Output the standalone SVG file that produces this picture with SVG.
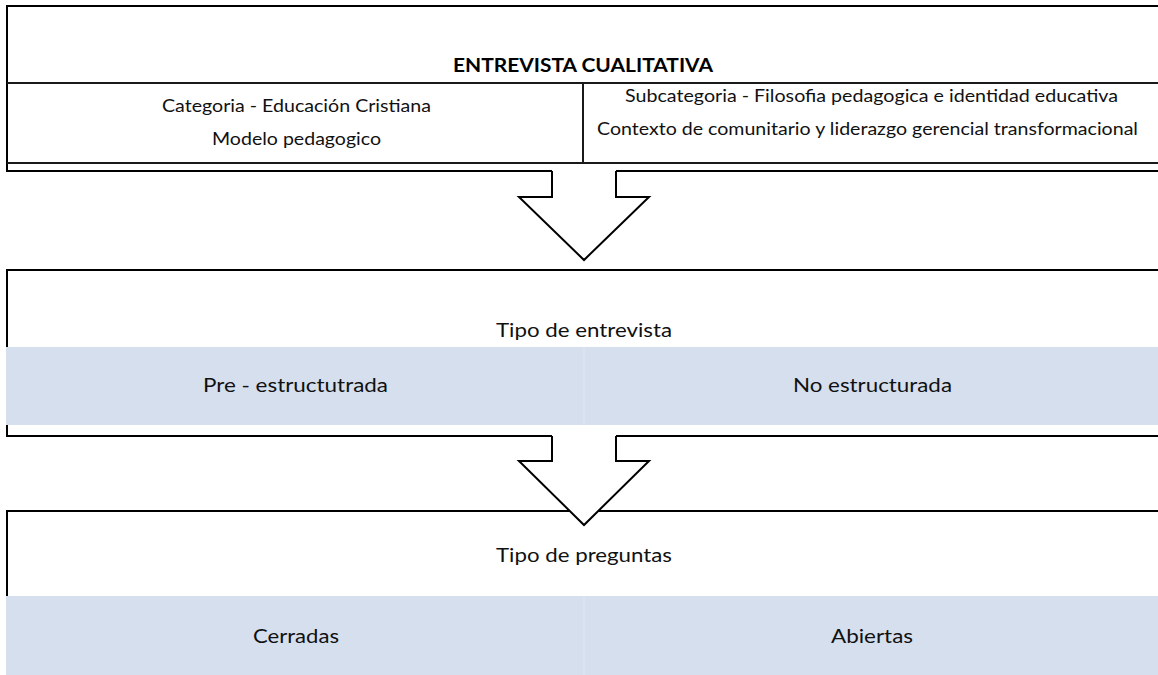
<svg xmlns="http://www.w3.org/2000/svg" width="1158" height="675" viewBox="0 0 1158 675">
  <style>
    .edge { fill: none; stroke: #000; stroke-width: 2; stroke-linejoin: miter; }
    .cell { fill: none; stroke: #1a1a1a; stroke-width: 2; }
    .band { fill: #D5DFEE; }
    .bandsep { stroke: #DDE5F1; stroke-width: 1.5; }
    .t { font-family: Lato, "Liberation Sans", Arial, sans-serif; font-size: 19.5px; fill: #111; }
    .s { font-family: Lato, "Liberation Sans", Arial, sans-serif; font-size: 17.5px; fill: #111; }
    .b { font-family: Lato, "Liberation Sans", Arial, sans-serif; font-size: 18.5px; font-weight: bold; fill: #000; }
    .arrow { fill: #fff; stroke: #000; stroke-width: 2; stroke-linejoin: miter; }
  </style>
  <rect x="0" y="0" width="1158" height="675" fill="#fff"/>

  <g id="node-entrevista-cualitativa">
    <path class="edge" d="M1165,6 H7 V171 H552 M616,171 H1165"/>
    <line class="cell" x1="7" y1="83" x2="1165" y2="83"/>
    <line class="cell" x1="7" y1="163" x2="1165" y2="163"/>
    <line class="cell" x1="583" y1="83" x2="583" y2="163"/>
    <text class="b" x="453" y="72" textLength="260" lengthAdjust="spacingAndGlyphs">ENTREVISTA CUALITATIVA</text>
    <text class="s" x="162" y="112" textLength="269" lengthAdjust="spacingAndGlyphs">Categoria - Educación Cristiana</text>
    <text class="s" x="212" y="145" textLength="169" lengthAdjust="spacingAndGlyphs">Modelo pedagogico</text>
    <text class="s" x="625" y="102" textLength="493" lengthAdjust="spacingAndGlyphs">Subcategoria - Filosofia pedagogica e identidad educativa</text>
    <text class="s" x="597" y="135" textLength="541" lengthAdjust="spacingAndGlyphs">Contexto de comunitario y liderazgo gerencial transformacional</text>
  </g>

  <g id="node-tipo-entrevista">
    <path class="edge" d="M1165,270 H7 V436 H552 M616,436 H1165"/>
    <rect class="band" x="6" y="347" width="1160" height="78"/>
    <line class="bandsep" x1="584" y1="347" x2="584" y2="425"/>
    <text class="t" x="496" y="337" textLength="176" lengthAdjust="spacingAndGlyphs">Tipo de entrevista</text>
    <text class="t" x="203" y="392" textLength="185" lengthAdjust="spacingAndGlyphs">Pre - estructutrada</text>
    <text class="t" x="793" y="392" textLength="159" lengthAdjust="spacingAndGlyphs">No estructurada</text>
  </g>

  <g id="node-tipo-preguntas">
    <path class="edge" d="M1165,511 H7 V600"/>
    <rect class="band" x="6" y="596" width="1160" height="85"/>
    <line class="bandsep" x1="584" y1="596" x2="584" y2="675"/>
    <text class="t" x="496" y="562" textLength="176" lengthAdjust="spacingAndGlyphs">Tipo de preguntas</text>
    <text class="t" x="253" y="643" textLength="86" lengthAdjust="spacingAndGlyphs">Cerradas</text>
    <text class="t" x="831" y="643" textLength="82" lengthAdjust="spacingAndGlyphs">Abiertas</text>
  </g>

  <g id="connectors">
    <path class="arrow" d="M552,171 V197 H519 L584,260 L649,197 H616 V171"/>
    <path class="arrow" d="M552,436 V461 H519 L584,525 L649,461 H616 V436"/>
  </g>
</svg>
